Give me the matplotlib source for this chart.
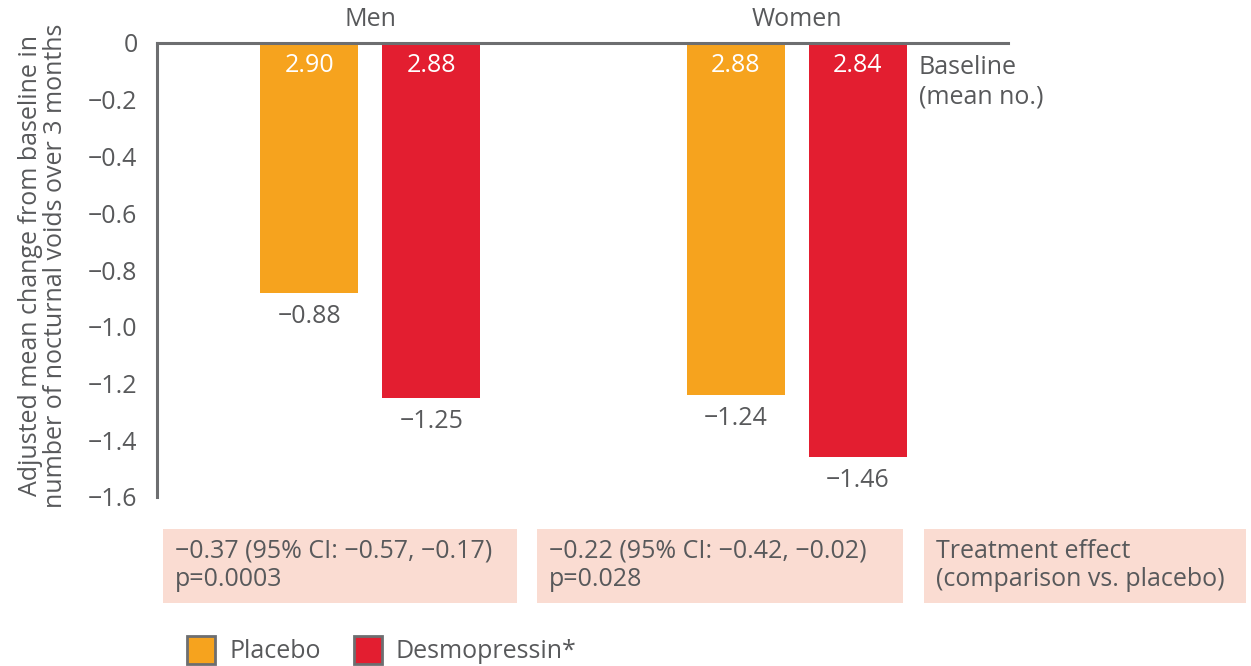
import matplotlib
matplotlib.use("Agg")
import matplotlib.pyplot as plt
from matplotlib.patches import Rectangle
from matplotlib.ticker import FuncFormatter

groups = ["Men", "Women"]
placebo_change = [-0.88, -1.24]
desmo_change = [-1.25, -1.46]
placebo_baseline = ["2.90", "2.88"]
desmo_baseline = ["2.88", "2.84"]
effects = [["−0.37 (95% CI: −0.57, −0.17)", "p=0.0003"],
           ["−0.22 (95% CI: −0.42, −0.02)", "p=0.028"],
           ["Treatment effect", "(comparison vs. placebo)"]]
yticks = [0, -0.2, -0.4, -0.6, -0.8, -1.0, -1.2, -1.4, -1.6]
series_names = ["Placebo", "Desmopressin*"]

ORANGE = "#F6A31E"
RED = "#E31E30"
GRAY = "#58595B"
SPINE = "#6D6E70"
BOX = "#FADCD2"
FONT = ["Open Sans", "DejaVu Sans"]
FS = 18
plt.rcParams["font.family"] = FONT

W, H = 1251, 666
fig = plt.figure(figsize=(W / 100, H / 100), dpi=100)
ax = fig.add_axes([157 / W, 1 - 497 / H, (1008 - 157) / W, (497 - 43) / H])

x = list(range(len(groups)))
bw = 0.23
off = 0.143
xp = [i - off for i in x]
xd = [i + off for i in x]
ax.bar(xp, placebo_change, bw, color=ORANGE, zorder=2)
ax.bar(xd, desmo_change, bw, color=RED, zorder=2)

ax.set_xlim(-0.5, -0.5 + 851 / 426.5)
ax.set_ylim(-1.6, 0)
ax.set_yticks(yticks)
ax.yaxis.set_major_formatter(FuncFormatter(lambda v, p: "0" if abs(v) < 1e-9 else f"{v:.1f}".replace("-", "−")))
ax.tick_params(axis="y", length=0, pad=14, labelsize=FS, labelcolor=GRAY)
ax.set_xticks([])
for s in ["right", "bottom"]:
    ax.spines[s].set_visible(False)
for s in ["left", "top"]:
    ax.spines[s].set_color(SPINE)
    ax.spines[s].set_linewidth(2.2)
    ax.spines[s].set_zorder(3)

def fmt(v):
    return f"{v:.2f}".replace("-", "−")

for xs, vals, base in [(xp, placebo_change, placebo_baseline), (xd, desmo_change, desmo_baseline)]:
    for xi, v, b in zip(xs, vals, base):
        ax.annotate(fmt(v), (xi, v), xytext=(0, -17), textcoords="offset points",
                    ha="center", va="center", fontsize=FS, color=GRAY)
        ax.annotate(b, (xi, 0), xytext=(0, -16.5), textcoords="offset points",
                    ha="center", va="center", fontsize=FS, color="white")

for xi, g in zip(x, groups):
    ax.annotate(g, (xi, 0), xytext=(0, 17), textcoords="offset points",
                ha="center", va="center", fontsize=FS, color=GRAY, annotation_clip=False)

fig.text(919 / W, 1 - 67 / H, "Baseline", ha="left", va="center", fontsize=FS, color=GRAY)
fig.text(919 / W, 1 - 97 / H, "(mean no.)", ha="left", va="center", fontsize=FS, color=GRAY)

fig.text(43 / W, 1 - 266 / H, "Adjusted mean change from baseline in\nnumber of nocturnal voids over 3 months",
         rotation=90, ha="center", va="center", fontsize=FS, color=GRAY, linespacing=1.05)

boxes = [(163, 517), (537, 903), (924, 1246)]
for (x0, x1), lines in zip(boxes, effects):
    fig.add_artist(Rectangle((x0 / W, 1 - 603 / H), (x1 - x0) / W, 74 / H,
                             transform=fig.transFigure, facecolor=BOX, edgecolor="none"))
    fig.text((x0 + 12) / W, 1 - 551 / H, lines[0], ha="left", va="center", fontsize=FS, color=GRAY)
    fig.text((x0 + 12) / W, 1 - 579 / H, lines[1], ha="left", va="center", fontsize=FS, color=GRAY)

for (sx, tx), name, col in zip([(187, 229), (354, 396)], series_names, [ORANGE, RED]):
    fig.add_artist(Rectangle((sx / W, 1 - 664 / H), 28 / W, 28 / H, transform=fig.transFigure,
                             facecolor=col, edgecolor=SPINE, linewidth=2))
    fig.text(tx / W, 1 - 651 / H, name, ha="left", va="center", fontsize=FS, color=GRAY)

fig.savefig("out.png", dpi=100)
